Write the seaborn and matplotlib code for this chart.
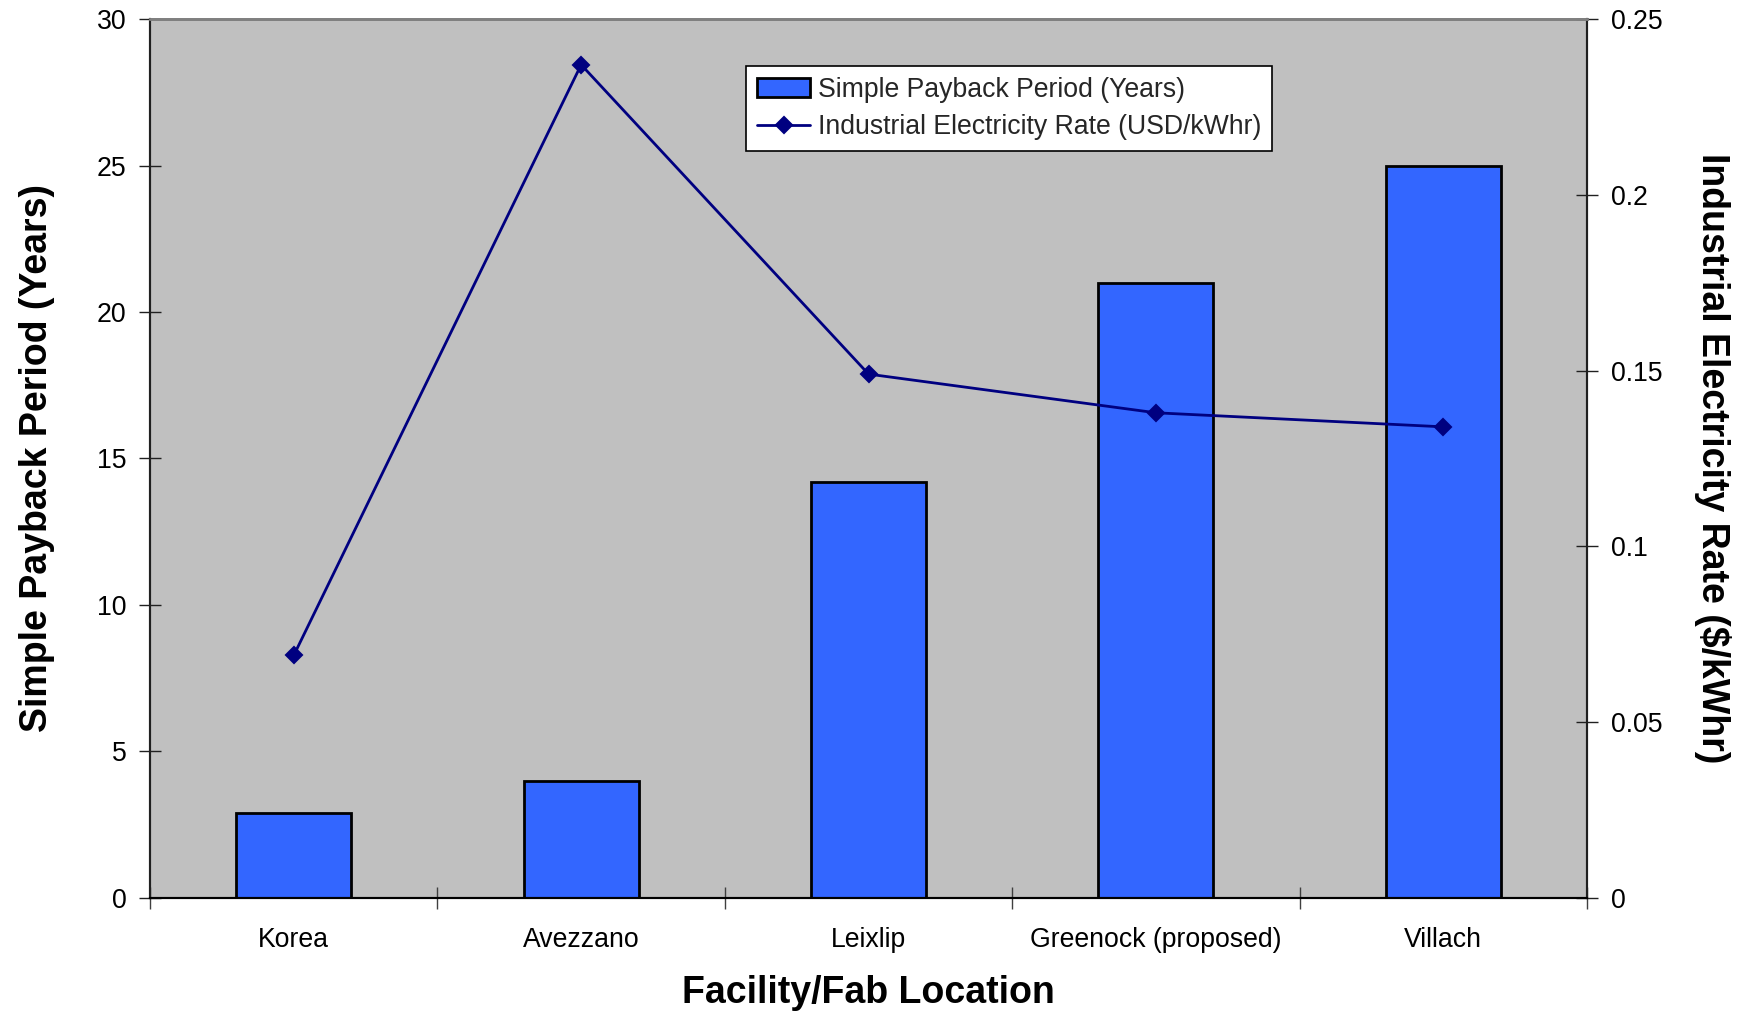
import matplotlib
matplotlib.use("Agg")
import matplotlib.pyplot as plt
from matplotlib.ticker import FixedLocator, FuncFormatter
import seaborn as sns
import pandas as pd

# Facility data
locations = ["Korea", "Avezzano", "Leixlip", "Greenock (proposed)", "Villach"]
payback_years = [2.9, 4.0, 14.2, 21.0, 25.0]
electricity_rate = [0.069, 0.237, 0.149, 0.138, 0.134]

payback_label = "Simple Payback Period (Years)"
rate_label = "Industrial Electricity Rate (USD/kWhr)"

df = pd.DataFrame({
    "location": locations,
    "payback": payback_years,
    "rate": electricity_rate,
})

sns.set_theme(style="white")
plt.rcParams["font.family"] = ["Liberation Sans", "DejaVu Sans"]

TICK_FS = 19.2
LABEL_FS = 27

fig = plt.figure(figsize=(17.43, 10.11), dpi=100)
ax = fig.add_axes([0.0861, 0.1118, 0.8244, 0.8694])
ax.set_facecolor("#C0C0C0")

sns.barplot(data=df, x="location", y="payback", order=locations,
            color="#3366FF", saturation=1, width=0.4,
            edgecolor="black", linewidth=2.0, ax=ax)

ax2 = ax.twinx()
sns.pointplot(data=df, x="location", y="rate", order=locations,
              color="#000080", marker="D", markersize=8,
              linewidth=2.0, ax=ax2)

# Axis limits and ticks
ax.set_ylim(0, 30)
ax.set_yticks(range(0, 31, 5))
ax2.set_ylim(0, 0.25)
ax2.set_yticks([0, 0.05, 0.10, 0.15, 0.20, 0.25])
ax2.yaxis.set_major_formatter(FuncFormatter(lambda v, p: f"{v:g}"))
ax.set_xlim(-0.5, len(locations) - 0.5)

ax.xaxis.set_minor_locator(FixedLocator([i - 0.5 for i in range(len(locations) + 1)]))
ax.tick_params(axis="x", which="major", length=0, pad=21, labelsize=TICK_FS, colors="black")
ax.tick_params(axis="x", which="minor", direction="inout", length=16, width=1,
               color="#404040", bottom=True)
ax.tick_params(axis="y", which="major", direction="inout", length=16, width=1,
               left=True, pad=9, labelsize=TICK_FS, color="#202020", labelcolor="black")
ax2.tick_params(axis="y", which="major", direction="inout", length=16, width=1,
                right=True, pad=9, labelsize=TICK_FS, color="#202020", labelcolor="black")

# Spines
for a in (ax, ax2):
    a.spines["top"].set_color("#808080")
    a.spines["top"].set_linewidth(2)
    a.spines["left"].set_color("#202020")
    a.spines["right"].set_color("#202020")
    a.spines["bottom"].set_color("black")
    for s in ("left", "right", "bottom"):
        a.spines[s].set_linewidth(1.5)

# Axis labels
ax.set_xlabel("Facility/Fab Location", fontsize=LABEL_FS, fontweight="bold", color="black")
ax.xaxis.set_label_coords(0.5, -0.088)
ax.set_ylabel(payback_label, fontsize=LABEL_FS, fontweight="bold", color="black")
ax.yaxis.set_label_coords(-0.0665, 0.5)
ax2.set_ylabel("Industrial Electricity Rate ($/kWhr)", fontsize=LABEL_FS,
               fontweight="bold", color="black", rotation=270, va="bottom")
ax2.yaxis.set_label_coords(1.0745, 0.5)

# Legend with both series
bar_handle = ax.patches[0]
line_handle = ax2.lines[0]
leg = ax2.legend([bar_handle, line_handle], [payback_label, rate_label],
                 loc="upper left", bbox_to_anchor=(0.415, 0.9465),
                 fontsize=TICK_FS, frameon=True, fancybox=False, framealpha=1,
                 edgecolor="black", handlelength=2.0, handletextpad=0.3,
                 borderpad=0.4, labelspacing=0.42, borderaxespad=0)
leg.get_frame().set_linewidth(1.2)

fig.savefig("out.png", dpi=100, facecolor="white")
